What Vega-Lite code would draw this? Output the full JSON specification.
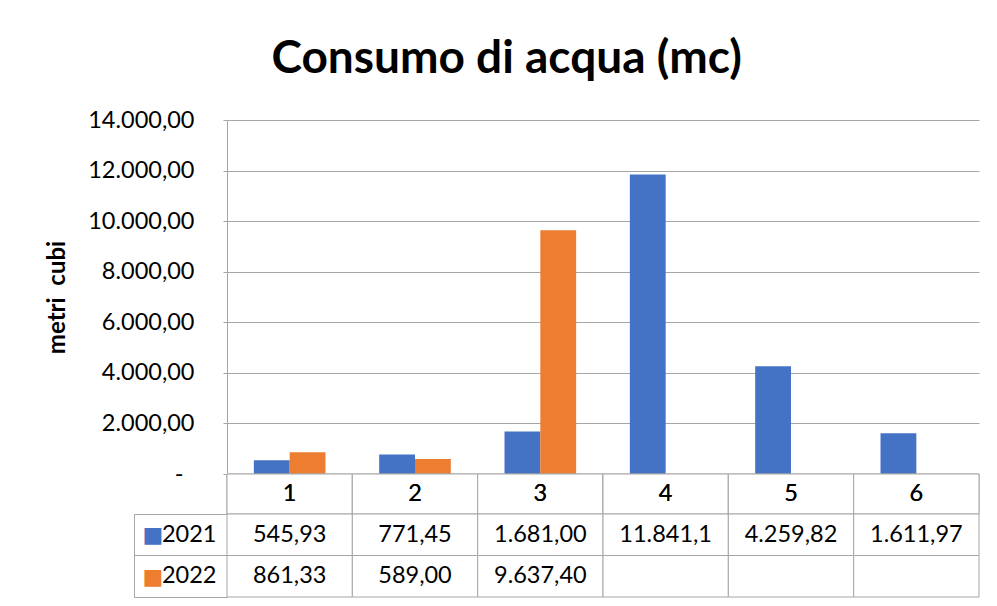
{
  "$schema": "https://vega.github.io/schema/vega-lite/v6.json",
  "background": "white",
  "padding": {"left": 45, "top": 36, "right": 10, "bottom": 5},
  "title": {"text": "Consumo di acqua (mc)", "font": "Lato", "fontSize": 46, "fontWeight": "bold", "color": "black", "anchor": "middle", "offset": 25, "dx": -6},
  "datasets": {
    "consumi": [
      {"mese": "1", "anno": "2021", "valore": 545.93, "testo": "545,93"},
      {"mese": "1", "anno": "2022", "valore": 861.33, "testo": "861,33"},
      {"mese": "2", "anno": "2021", "valore": 771.45, "testo": "771,45"},
      {"mese": "2", "anno": "2022", "valore": 589.00, "testo": "589,00"},
      {"mese": "3", "anno": "2021", "valore": 1681.00, "testo": "1.681,00"},
      {"mese": "3", "anno": "2022", "valore": 9637.40, "testo": "9.637,40"},
      {"mese": "4", "anno": "2021", "valore": 11841.1, "testo": "11.841,1"},
      {"mese": "4", "anno": "2022", "valore": null, "testo": ""},
      {"mese": "5", "anno": "2021", "valore": 4259.82, "testo": "4.259,82"},
      {"mese": "5", "anno": "2022", "valore": null, "testo": ""},
      {"mese": "6", "anno": "2021", "valore": 1611.97, "testo": "1.611,97"},
      {"mese": "6", "anno": "2022", "valore": null, "testo": ""}
    ]
  },
  "data": {"name": "consumi"},
  "spacing": 0,
  "bounds": "flush",
  "vconcat": [
    {
      "width": 752,
      "height": 354,
      "view": {"stroke": null},
      "mark": {"type": "bar"},
      "encoding": {
        "x": {"field": "mese", "type": "nominal", "scale": {"paddingInner": 0, "paddingOuter": 0}, "axis": null},
        "xOffset": {"field": "anno", "type": "nominal", "scale": {"paddingInner": 0, "paddingOuter": 0.75}},
        "y": {
          "field": "valore", "type": "quantitative",
          "scale": {"domain": [0, 14000], "nice": false},
          "axis": {
            "title": "metri\u00a0\u00a0cubi",
            "values": [0, 2000, 4000, 6000, 8000, 10000, 12000, 14000],
            "labelExpr": "datum.value == 0 ? '-' : replace(replace(replace(format(datum.value, ',.2f'), ',', '#'), '.', ','), '#', '.')",
            "grid": true, "gridColor": "#a6a6a6", "gridWidth": 1,
            "domain": true, "domainColor": "#a6a6a6",
            "ticks": true, "tickColor": "#a6a6a6", "tickSize": 4,
            "labelPadding": {"condition": {"test": "datum.value == 0", "value": 40}, "value": 29},
            "labelFont": "Lato", "labelFontSize": 23.5, "labelColor": "black",
            "titleFont": "Lato", "titleFontSize": 24, "titleFontWeight": "bold", "titleColor": "black", "titlePadding": 18
          }
        },
        "color": {"field": "anno", "type": "nominal", "scale": {"domain": ["2021", "2022"], "range": ["#4472C4", "#ED7D31"]}, "legend": null}
      }
    },
    {
      "width": 752,
      "height": 40,
      "view": {"stroke": null},
      "layer": [
        {
          "mark": {"type": "rect", "fill": "white", "stroke": "#a6a6a6", "strokeWidth": 1},
          "encoding": {
            "x": {"field": "mese", "type": "nominal", "scale": {"paddingInner": 0, "paddingOuter": 0}, "axis": null},
            "y": {"datum": "cat", "type": "nominal", "scale": {"paddingInner": 0, "paddingOuter": 0},
              "axis": {"title": null, "labels": false, "domain": false, "ticks": true, "bandPosition": 1, "tickSize": 93, "tickColor": "#a6a6a6"}}
          }
        },
        {
          "mark": {"type": "text", "font": "Lato", "fontSize": 23.5, "color": "black"},
          "encoding": {
            "x": {"field": "mese", "type": "nominal"},
            "y": {"datum": "cat", "type": "nominal"},
            "text": {"field": "mese"}
          }
        }
      ]
    },
    {
      "width": 752,
      "height": 83,
      "view": {"stroke": null},
      "resolve": {"scale": {"y": "independent"}},
      "layer": [
        {
          "encoding": {
            "x": {"field": "mese", "type": "nominal", "scale": {"paddingInner": 0, "paddingOuter": 0}, "axis": null},
            "y": {"field": "anno", "type": "nominal", "scale": {"domain": ["2021", "2022"], "paddingInner": 0, "paddingOuter": 0},
              "axis": {"title": null, "orient": "left", "domain": false, "ticks": true, "bandPosition": 1, "tickSize": 93, "tickColor": "#a6a6a6",
                "labelPadding": -82, "labelFont": "Lato", "labelFontSize": 23.5, "labelColor": "black"}}
          },
          "layer": [
            {"mark": {"type": "rect", "fill": "white", "stroke": "#a6a6a6", "strokeWidth": 1}},
            {"mark": {"type": "text", "font": "Lato", "fontSize": 23.5, "color": "black"}, "encoding": {"text": {"field": "testo"}}}
          ]
        },
        {
          "mark": {"type": "point", "opacity": 0},
          "encoding": {
            "y": {"field": "anno", "type": "nominal", "scale": {"domain": ["2021", "2022"], "paddingInner": 0, "paddingOuter": 0},
              "axis": {"title": null, "orient": "left", "offset": 93, "domain": true, "domainColor": "#a6a6a6", "ticks": false,
                "labelExpr": "'\u25a0'", "labelAlign": "left", "labelPadding": -8, "labelFont": "DejaVu Sans", "labelFontSize": 22,
                "labelColor": {"condition": {"test": "datum.value == '2021'", "value": "#4472C4"}, "value": "#ED7D31"}}}
          }
        }
      ]
    }
  ],
  "config": {"font": "Lato", "view": {"stroke": null}}
}
